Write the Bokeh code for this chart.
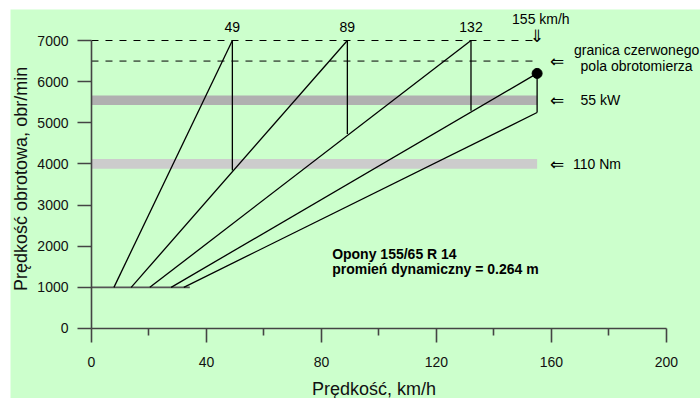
import math
from bokeh.plotting import figure
from bokeh.models import Range1d, FixedTicker, ColumnDataSource
from bokeh.core.properties import value
from bokeh.embed import file_html
from bokeh.resources import INLINE

# ---------------- data ----------------
x_ticks = [0, 40, 80, 120, 160, 200]
x_minor_ticks = [20, 60, 100, 140, 180]
y_ticks = [0, 1000, 2000, 3000, 4000, 5000, 6000, 7000]

gear_v_start = [7.8, 13.8, 20.3, 27.7, 32.1]
gear_rpm_start = [1000, 1000, 1000, 1000, 1000]
gear_v_end = [49, 89, 132, 155, 155]
gear_rpm_end = [7000, 7000, 7000, 6200, 5250]

shift_v = [49, 89, 132, 155]
shift_rpm_top = [7000, 7000, 7000, 6200]
shift_rpm_bottom = [3840, 4730, 5290, 5250]
shift_labels = ["49", "89", "132"]

vmax = 155
vmax_rpm = 6200
idle_rpm = 1000
idle_v = [0, 34.2]
red_zone_rpm = [7000, 6500]
red_zone_v = [0, 155]
power_band_rpm = 5550      # 55 kW
torque_band_rpm = 4000     # 110 Nm
band_v = [0, 155]

x_title = "Prędkość, km/h"
y_title = "Prędkość obrotowa, obr/min"

GREEN = "#ccffcc"
FONT = "Liberation Sans"
AXC = "#444444"

p = figure(width=690, height=389, output_backend="svg", toolbar_location=None,
           x_range=Range1d(-28.17, 211.83), y_range=Range1d(-1701.4, 7753.5),
           min_border_left=0, min_border_right=0, min_border_top=0, min_border_bottom=0,
           background_fill_color=GREEN, border_fill_color=GREEN, outline_line_color=None)
p.margin = (9, 0, 0, 10)
p.xgrid.visible = False
p.ygrid.visible = False

# axes (drawn at data zero, inside the frame)
xa = p.xaxis[0]
xa.ticker = FixedTicker(ticks=x_ticks, minor_ticks=x_minor_ticks)
xa.bounds = (x_ticks[0], x_ticks[-1])
xa.fixed_location = 0
ya = p.yaxis[0]
ya.ticker = FixedTicker(ticks=y_ticks)
ya.bounds = (y_ticks[0], y_ticks[-1])
ya.fixed_location = 0
for ax in (xa, ya):
    ax.axis_line_color = AXC
    ax.axis_line_width = 1.6
    ax.major_tick_line_color = AXC
    ax.major_tick_line_width = 1.6
    ax.major_tick_in = 0
    ax.major_tick_out = 14
    ax.minor_tick_line_color = AXC
    ax.minor_tick_line_width = 1.6
    ax.minor_tick_in = 0
    ax.minor_tick_out = 7
    ax.major_label_text_font = FONT
    ax.major_label_text_font_size = "14px"
    ax.major_label_text_color = "#111111"
    ax.major_label_standoff = 9
xa.major_label_standoff = 15
ya.minor_tick_line_color = None

# bands
p.hbar(y=[power_band_rpm], left=band_v[0], right=band_v[1], height=230,
       fill_color="#b0b0b0", line_color=None)
p.hbar(y=[torque_band_rpm], left=band_v[0], right=band_v[1], height=240,
       fill_color="#cccccc", line_color=None)

# red-zone dashed lines
p.segment(x0=[red_zone_v[0]] * 2, y0=red_zone_rpm, x1=[red_zone_v[1]] * 2, y1=red_zone_rpm,
          line_color="black", line_width=1, line_dash="7 7")

# idle line
p.line(x=idle_v, y=[idle_rpm, idle_rpm], line_color="#555555", line_width=1.8)

# gear lines
p.segment(x0=gear_v_start, y0=gear_rpm_start, x1=gear_v_end, y1=gear_rpm_end,
          line_color="black", line_width=1.3)
# shift verticals
p.segment(x0=shift_v, y0=shift_rpm_bottom, x1=shift_v, y1=shift_rpm_top,
          line_color="black", line_width=1.3)
# max speed point
p.scatter(x=[vmax], y=[vmax_rpm], size=10, color="black")

# texts
src = ColumnDataSource(dict(x=shift_v[:3], y=[7323] * 3, t=shift_labels))
p.text(x="x", y="y", text="t", source=src, text_font=value(FONT), text_font_size="14px",
       text_align="center", text_baseline="middle", text_color="black")

p.text(x=[156.3], y=[7527], text=["155 km/h"], text_font=value(FONT), text_font_size="14px",
       text_align="center", text_baseline="middle", text_color="black")
p.text(x=[vmax], y=[7110], text=["⇓"], text_font=value("DejaVu Sans"), text_font_size="17px",
       text_align="center", text_baseline="middle", text_color="black")
p.text(x=[162] * 3, y=[red_zone_rpm[1], power_band_rpm, torque_band_rpm], text=["⇐"] * 3,
       text_font=value("DejaVu Sans"), text_font_size="17px",
       text_align="center", text_baseline="middle", text_color="black")
p.text(x=[189.6, 189.6], y=[6774, 6392], text=["granica czerwonego", "pola obrotomierza"],
       text_font=value(FONT), text_font_size="14px",
       text_align="center", text_baseline="middle", text_color="black")
p.text(x=[170.1], y=[power_band_rpm], text=["55 kW"], text_font=value(FONT), text_font_size="14px",
       text_align="left", text_baseline="middle", text_color="black")
p.text(x=[167.5], y=[torque_band_rpm], text=["110 Nm"], text_font=value(FONT), text_font_size="14px",
       text_align="left", text_baseline="middle", text_color="black")
p.text(x=[83.7, 83.7], y=[1813, 1456], text=["Opony 155/65 R 14", "promień dynamiczny = 0.264 m"],
       text_font=value(FONT), text_font_size="14px", text_font_style="bold",
       text_align="left", text_baseline="middle", text_color="black")

# axis titles
p.text(x=[98.3], y=[-1478], text=[x_title], text_font=value(FONT), text_font_size="18px",
       text_align="center", text_baseline="middle", text_color="#111111")
p.text(x=[-24.4], y=[3636], text=[y_title], angle=math.pi / 2, text_font=value(FONT),
       text_font_size="18px", text_align="center", text_baseline="middle",
       text_color="#111111")

open("out.html", "w").write(file_html(p, INLINE))
